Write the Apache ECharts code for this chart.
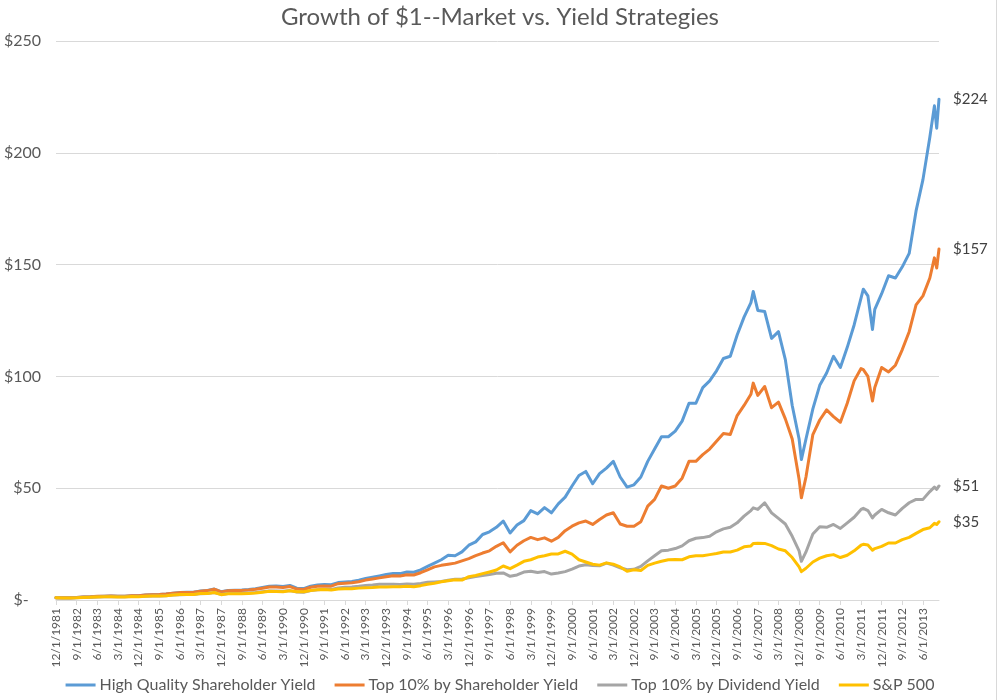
<!DOCTYPE html>
<html>
<head>
<meta charset="utf-8">
<script src="https://cdn.jsdelivr.net/npm/echarts/dist/echarts.min.js"></script>
<style>
html,body{margin:0;padding:0;background:#ffffff;}
#chart{width:1000px;height:700px;}
</style>
</head>
<body>
<div id="chart"></div>
<script>
// ---------- data ----------
const chartTitle = 'Growth of $1--Market vs. Yield Strategies';
const seriesNames = ['High Quality Shareholder Yield', 'Top 10% by Shareholder Yield', 'Top 10% by Dividend Yield', 'S&P 500'];
const seriesColors = ['#5B9BD5', '#ED7D31', '#A5A5A5', '#FFC000'];

// monthly categories: 12/1/1981 ... 1/1/2014
const startYear = 1981, startMonth = 12, monthCount = 386;

const sampleMonths = [
  0,3,6,9,12,15,18,21,24,27,30,33,36,39,42,45,48,51,54,57,60,63,66,69,72,75,78,81,84,87,90,93,96,99,
  102,105,108,111,114,117,120,123,126,129,132,135,138,141,144,147,150,153,156,159,162,165,168,171,174,177,
  180,183,186,189,192,195,198,201,204,207,210,213,216,219,222,225,228,231,234,237,240,243,246,249,252,255,
  258,261,264,267,270,273,276,279,282,285,288,291,294,297,300,
  303,304,306,309,312,
  315,318,321,324,325,
  327,330,333,336,
  339,342,345,348,
  351,352,354,356,357,360,
  363,366,369,372,
  375,378,381,383,384,385
];

const hqShareholderYield = [
  1.00,
  0.98, 1.02, 1.12, 1.35,
  1.45, 1.62, 1.68, 1.75,
  1.72, 1.70, 1.90, 1.95,
  2.25, 2.40, 2.45, 2.70,
  3.05, 3.35, 3.45, 3.50,
  4.05, 4.30, 4.90, 3.70,
  4.30, 4.40, 4.50, 4.70,
  5.05, 5.60, 6.20, 6.25,
  6.00, 6.50, 5.30, 5.10,
  6.20, 6.70, 6.90, 6.80,
  7.80, 8.10, 8.30, 8.90,
  9.60, 10.2, 10.8, 11.4,
  11.9, 11.8, 12.5, 12.4,
  13.5, 15.0, 16.5, 18.0,
  20.0, 19.8, 21.5, 24.5,
  26.0, 29.3, 30.5, 32.5,
  35.3, 30.0, 33.5, 35.5,
  40.0, 38.5, 41.3, 39.0,
  43.0, 46.0, 51.0, 55.7,
  57.5, 52.0, 56.5, 59.0,
  62.0, 55.0, 50.5, 51.5,
  55.0, 62.0, 67.5, 73.0,
  73.0, 75.5, 80.0, 88.0,
  88.0, 95.0, 98.0, 102.5,
  108.0, 109.0, 118.5, 126.5,
  133.0, 138.0, 129.5, 129.0, 117.0,
  120.0, 107.5, 87.0, 72.0, 62.8,
  72.0, 85.5, 96.0, 101.5,
  109.0, 104.0, 113.0, 123.0,
  135.0, 139.0, 136.0, 121.0, 130.0, 137.0,
  145.0, 144.0, 149.0, 155.0,
  174.0, 188.0, 207.0, 221.0, 211.0, 224.0
];

const top10Shareholder = [
  1.00,
  0.97, 1.00, 1.12, 1.36,
  1.47, 1.65, 1.70, 1.78,
  1.73, 1.70, 1.88, 1.95,
  2.22, 2.38, 2.42, 2.65,
  3.00, 3.30, 3.40, 3.45,
  3.95, 4.20, 4.80, 3.60,
  4.10, 4.20, 4.30, 4.45,
  4.80, 5.30, 5.80, 5.85,
  5.60, 6.00, 4.90, 4.70,
  5.70, 6.10, 6.30, 6.20,
  7.30, 7.50, 7.70, 8.20,
  8.90, 9.40, 9.90, 10.4,
  10.8, 10.7, 11.3, 11.2,
  12.2, 13.5, 14.8, 15.5,
  16.0, 16.5, 17.5, 18.5,
  19.8, 21.0, 22.0, 24.0,
  25.6, 21.5, 24.5, 26.5,
  28.0, 27.0, 27.8, 26.3,
  28.0, 31.0, 33.0, 34.5,
  35.3, 33.8, 36.0, 38.0,
  39.0, 34.0, 33.0, 33.0,
  35.0, 42.0, 45.0, 51.0,
  50.0, 51.0, 54.5, 62.0,
  62.0, 65.0, 67.5, 71.0,
  74.5, 74.0, 82.5, 87.0,
  92.0, 97.0, 91.5, 95.5, 86.0,
  88.5, 81.0, 72.0, 54.0, 45.7,
  55.0, 74.0, 80.5, 85.0,
  82.0, 79.5, 88.0, 98.0,
  103.5, 103.0, 100.0, 89.0, 95.0, 104.0,
  102.0, 105.0, 112.0, 120.0,
  132.0, 136.0, 144.0, 153.0, 148.5, 157.0
];

const top10Dividend = [
  1.00,
  0.93, 0.95, 1.02, 1.18,
  1.26, 1.38, 1.42, 1.47,
  1.42, 1.40, 1.55, 1.55,
  1.72, 1.82, 1.82, 1.95,
  2.20, 2.40, 2.50, 2.50,
  2.85, 2.95, 3.35, 2.50,
  2.90, 2.95, 3.00, 3.15,
  3.35, 3.70, 4.00, 4.00,
  3.90, 4.20, 3.60, 3.50,
  4.20, 4.60, 4.80, 4.70,
  5.40, 5.70, 5.80, 6.10,
  6.50, 6.70, 7.00, 7.00,
  7.10, 6.90, 7.20, 7.00,
  7.40, 7.90, 8.10, 8.30,
  8.80, 9.30, 9.40, 9.90,
  10.5, 11.0, 11.4, 12.0,
  12.1, 10.6, 11.2, 12.5,
  12.9, 12.3, 12.7, 11.6,
  12.1, 12.7, 13.8, 15.2,
  15.8, 15.4, 15.3, 16.5,
  15.6, 14.4, 13.5, 13.7,
  15.0, 17.5, 19.8, 22.0,
  22.3, 23.0, 24.2, 26.5,
  27.6, 27.9, 28.5, 30.5,
  31.8, 32.5, 34.5, 37.5,
  40.0, 41.2, 40.5, 43.5, 39.0,
  36.5, 34.0, 28.5, 22.0, 17.3,
  21.5, 29.5, 32.8, 32.5,
  33.8, 32.0, 34.5, 37.0,
  40.5, 41.0, 40.0, 36.7, 38.0, 40.5,
  39.0, 38.0, 41.0, 43.5,
  45.0, 45.0, 48.5, 50.5, 49.5, 51.0
];

const sp500 = [
  1.00,
  0.91, 0.91, 0.99, 1.16,
  1.25, 1.39, 1.43, 1.46,
  1.39, 1.35, 1.52, 1.50,
  1.69, 1.78, 1.79, 1.94,
  2.20, 2.42, 2.50, 2.49,
  2.86, 2.94, 3.37, 2.38,
  2.79, 2.76, 2.78, 2.93,
  3.12, 3.50, 3.87, 3.84,
  3.72, 4.09, 3.69, 3.72,
  4.27, 4.57, 4.68, 4.48,
  4.96, 5.03, 5.06, 5.31,
  5.50, 5.62, 5.83, 5.86,
  5.97, 5.88, 6.17, 5.93,
  6.42, 7.07, 7.50, 8.13,
  8.65, 9.09, 8.91, 10.41,
  10.93, 11.78, 12.55, 13.39,
  15.2, 14.0, 15.6, 17.3,
  18.0, 19.2, 19.8, 20.6,
  20.6, 21.8, 20.5, 18.0,
  17.0, 16.0, 15.6, 16.6,
  16.0, 14.8, 12.9, 13.5,
  13.2, 15.5, 16.5, 17.3,
  18.0, 18.1, 18.0, 19.3,
  19.8, 19.8, 20.3, 20.8,
  21.5, 21.5, 22.3, 23.8,
  24.2, 25.3, 25.4, 25.3, 24.3,
  22.8, 22.0, 19.0, 14.8, 12.7,
  14.2, 17.0, 18.7, 19.8,
  20.3, 19.0, 20.0, 22.0,
  24.5, 24.9, 24.6, 22.3, 23.0, 24.0,
  25.5, 25.5, 27.0, 28.0,
  29.8, 31.5, 32.3, 34.3, 33.8, 35.0
];

const yMin = 0, yMax = 250, yStep = 50;

// ---------- build ----------
const FONT = 'Lato, "Open Sans", sans-serif';
const categories = [];
for (let i = 0; i < monthCount; i++) {
  const t = (startMonth - 1) + i;
  const y = startYear + Math.floor(t / 12);
  const m = (t % 12) + 1;
  categories.push(m + '/1/' + y);
}
function pairs(vals) {
  const n = Math.min(vals.length, sampleMonths.length);
  const out = [];
  for (let i = 0; i < n; i++) out.push([sampleMonths[i], vals[i]]);
  return out;
}
const allValues = [hqShareholderYield, top10Shareholder, top10Dividend, sp500];

const chart = echarts.init(document.getElementById('chart'), null, {renderer: 'canvas'});
chart.setOption({
  animation: false,
  backgroundColor: '#ffffff',
  title: {
    text: chartTitle, left: 'center', top: 0,
    textStyle: {fontFamily: FONT, fontSize: 24, fontWeight: 'normal', color: '#595959'}
  },
  legend: {
    data: seriesNames, bottom: 2, left: 'center',
    icon: 'rect', itemWidth: 30, itemHeight: 3, itemGap: 19,
    textStyle: {fontFamily: FONT, fontSize: 16, color: '#595959', padding: [0, 0, 0, -1]}
  },
  grid: {left: 56, right: 61, top: 41, bottom: 100, containLabel: false},
  xAxis: {
    type: 'category', data: categories, boundaryGap: false,
    axisLine: {lineStyle: {color: '#d9d9d9', width: 1}},
    axisTick: {show: true, interval: 8, alignWithLabel: true, length: 5, lineStyle: {color: '#d9d9d9'}},
    axisLabel: {interval: 8, rotate: 90, fontFamily: FONT, fontSize: 12, color: '#595959', margin: 8, hideOverlap: false},
    splitLine: {show: false}
  },
  yAxis: {
    type: 'value', min: yMin, max: yMax, interval: yStep,
    axisLine: {show: false}, axisTick: {show: false},
    axisLabel: {
      fontFamily: FONT, fontSize: 16, color: '#595959', margin: 15,
      formatter: v => v === 0 ? '$-   ' : '$' + v
    },
    splitLine: {lineStyle: {color: '#d9d9d9', width: 1}}
  },
  series: seriesNames.map((name, i) => ({
    name: name, type: 'line', data: pairs(allValues[i]),
    showSymbol: false, symbol: 'none', smooth: false,
    color: seriesColors[i],
    lineStyle: {color: seriesColors[i], width: 3, cap: 'round', join: 'round'},
    endLabel: {
      show: true, distance: 14,
      formatter: p => '$' + Math.round(p.value[1]),
      fontFamily: FONT, fontSize: 15, color: '#404040'
    },
    z: 2 + i
  })),
  graphic: [{
    type: 'line', shape: {x1: 996.5, y1: 0, x2: 996.5, y2: 700},
    style: {stroke: '#d9d9d9', lineWidth: 1}, silent: true
  }]
});
</script>
</body>
</html>
